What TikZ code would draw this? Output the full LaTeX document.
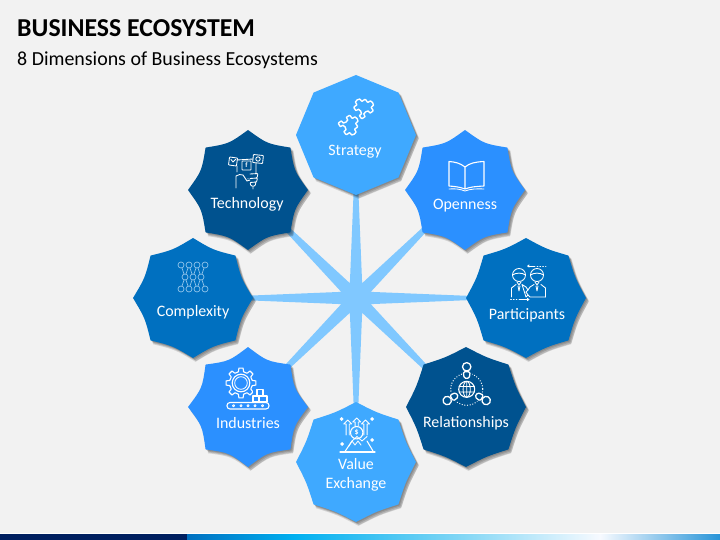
\documentclass[tikz,border=0pt]{standalone}
\usepackage{fontspec}
\setmainfont{Carlito}
\usetikzlibrary{arrows.meta}
\definecolor{bgc}{HTML}{F2F2F2}
\definecolor{cLight}{HTML}{3FA9FF}
\definecolor{cMid}{HTML}{2B90FF}
\definecolor{cDeep}{HTML}{0070C0}
\definecolor{cDark}{HTML}{00528F}
\definecolor{cStar}{HTML}{80C8FF}
\definecolor{cNavy}{HTML}{002060}
\definecolor{cFaint}{HTML}{8FC3EA}
\definecolor{barA}{HTML}{0070C0}
\definecolor{barB}{HTML}{00B0F0}
\definecolor{barC}{HTML}{80D6F5}
\definecolor{barD}{HTML}{F7FAFF}
\definecolor{barE}{HTML}{2794D8}
\tikzset{
 label/.style={text=white,font=\fontsize{16}{20}\selectfont,align=center,inner sep=0pt},
 icon/.style={draw=white,line width=1.1pt,line join=round,line cap=round},
 iconfine/.style={draw=white,line width=.85pt,line join=round,line cap=round},
 faint/.style={draw=cFaint,line width=.7pt}
}
\newcommand\octpath[1]{(0:60) \foreach \a in {0,45,...,315}{ .. controls ({\a+22.5}:#1) and ({\a+22.5}:#1) .. ({\a+45}:60)} -- cycle}
\newcommand\bizoct[4]{%
 \foreach \s/\t in {1/1,2/2,3/3,2.5/3.8}{\fill[black,opacity=.13,shift={(#1+\s,#2+\t)}] \octpath{#4};}
 \fill[#3,shift={(#1,#2)}] \octpath{#4};}
\newcommand\puzzlepiece{(-7,-7) -- (-2.5,-7) .. controls (-5,-12) and (5,-12) .. (2.5,-7) -- (7,-7) -- (7,-2.5) .. controls (12,-5) and (12,5) .. (7,2.5) -- (7,7) -- (2.5,7) .. controls (5,2.5) and (-5,2.5) .. (-2.5,7) -- (-7,7) -- (-7,2.5) .. controls (-2.5,5) and (-2.5,-5) .. (-7,-2.5) -- cycle}
\begin{document}
\begin{tikzpicture}[x=1bp,y=-1bp]
\useasboundingbox (0,0) rectangle (720,540);
\fill[bgc] (0,0) rectangle (720,540);
% star
\fill[cStar,shift={(356,298)}] (0:165) \foreach \a in {0,45,...,315}{ -- ({\a+22.5}:16) -- ({\a+45}:165)} -- cycle;
% octagons
\bizoct{356}{135}{cLight}{54.5}
\bizoct{465}{190}{cMid}{50}
\bizoct{526}{298}{cDeep}{53}
\bizoct{466}{407}{cDark}{53.5}
\bizoct{356}{462}{cLight}{53.5}
\bizoct{248}{407}{cMid}{49.5}
\bizoct{193}{298}{cDeep}{52}
\bizoct{248}{190}{cDark}{50}
% title
\node[anchor=west,inner sep=0pt,font=\fontsize{25.9}{28}\selectfont\bfseries] (title) at (17,28) {BUSINESS ECOSYSTEM};
\node[anchor=west,inner sep=0pt,font=\fontsize{20}{24}\selectfont] (subtitle) at (17,60) {8 Dimensions of Business Ecosystems};
% labels
\node[label] (strategy) at (355,151.5) {Strategy};
\node[label] (openness) at (465,205.5) {Openness};
\node[label] (technology) at (247,204.5) {Technology};
\node[label] (complexity) at (193,312.5) {Complexity};
\node[label] (participants) at (527,315.5) {Participants};
\node[label] (relationships) at (466,423.5) {Relationships};
\node[label] (industries) at (248,423.5) {Industries};
\node[label] (value) at (356,464) {Value};
\node[label] (exchange) at (356,484) {Exchange};
% strategy icon
\draw[icon,line width=1.4pt,rounded corners=.8pt,shift={(363.5,109)},rotate=35,scale=1.02] \puzzlepiece;
\draw[icon,line width=1.4pt,rounded corners=.8pt,shift={(348,125)},rotate=-55,scale=1.02] \puzzlepiece;
% openness icon
\draw[icon] (465,167) .. controls (460,163) and (455,162) .. (449,161.5) -- (449,186) .. controls (455,186.5) and (460,187) .. (465,189) .. controls (470,187) and (475,186.5) .. (484,186) -- (484,161.5) .. controls (475,162) and (470,163) .. (465,167) -- cycle (465,167) -- (465,188);
\draw[iconfine] (449,189) .. controls (455,188.5) and (460,189) .. (465,191) .. controls (470,189) and (477,188.5) .. (484,189);
% technology icon
\draw[iconfine,rounded corners=.6pt,rotate around={-8:(233,161.5)}] (229,157.5) rectangle (237,165.5);
\draw[iconfine,rounded corners=.6pt] (242,161) rectangle (251,170);
\draw[iconfine,rounded corners=.6pt,rotate around={-6:(258,159)}] (253,155) rectangle (263,163);
\draw[iconfine] (258,159) circle (2.2);
\node[text=white,inner sep=0pt,font=\fontsize{7}{7}\selectfont\bfseries] (fglyph) at (246.5,165.5) {f};
\draw[iconfine] (231,159.5) -- (233,162) -- (235.5,159.5);
\draw[iconfine] (237,160) -- (253,159) (256,163) -- (256,174) (237,166) -- (237,172);
\draw[iconfine] (236,188) -- (236,176) .. controls (238,174.5) and (241,174) .. (243,175) -- (247,181) -- (250,180) (248,178.5) -- (248,179);
\draw[iconfine,rounded corners=.8pt] (250,174) -- (258,173.5) -- (257,178) -- (250,178.5) (250,178.5) -- (257.5,178) -- (256.5,182) -- (250,182.5) -- (251,186) -- (255,186) -- (256,182) (253,186) -- (253,189);
% complexity icon
\draw[faint] (181,265) -- (185,277) (189,265) -- (185,277) (189,265) -- (193,277) (197,265) -- (193,277) (197,265) -- (201,277) (205,265) -- (201,277)
 (185,277) -- (181,289) (185,277) -- (189,289) (193,277) -- (189,289) (193,277) -- (197,289) (201,277) -- (197,289) (201,277) -- (205,289);
\foreach \x in {181,189,197,205}{\fill[cDeep] (\x,265) circle (3); \draw[faint] (\x,265) circle (3); \fill[cDeep] (\x,289) circle (3); \draw[faint] (\x,289) circle (3);}
\foreach \x in {185,193,201}{\fill[cDeep] (\x,277) circle (3); \draw[faint] (\x,277) circle (3);}
% participants icon
\foreach \x/\d in {519/1,537/-1}{
 \draw[iconfine] (\x,275) circle (6.5);
 \draw[iconfine] (\x-6.5,275) .. controls (\x-3,272.5) and (\x+3,272.5) .. (\x+6.5,275);
 \draw[iconfine] (\x-2,282) -- (\x,285) -- (\x+2,282) (\x-1,286) -- (\x,291) -- (\x+1,286);
}
\draw[iconfine] (511.5,297) -- (511.5,288) -- (516,284.5) (522,284.5) -- (526,287) -- (528,290) -- (526,292) -- (528,295) -- (526,297) -- cycle;
\draw[iconfine] (545.5,297) -- (545.5,288) -- (541,284.5) (534,284.5) -- (530,287) -- (528,290);
\draw[iconfine] (528,295) -- (530,297) -- (545.5,297);
\draw[iconfine,-{Straight Barb[length=1.6pt,width=2.4pt]}] (535,266) -- (527,266);
\draw[iconfine,dotted] (537,266) -- (546,266);
\draw[iconfine,-{Straight Barb[length=1.6pt,width=2.4pt]}] (519,299.5) -- (529.5,299.5);
\draw[iconfine,dotted] (510.5,299.5) -- (517,299.5);
% relationships icon
\draw[icon,line width=1.3pt,dash pattern=on .1pt off 2.6pt] (466.7,389.3) circle (16);
\fill[cDark] (466.7,389.3) circle (8.5);
\draw[icon] (466.7,389.3) circle (8);
\draw[iconfine] (466.7,389.3) ellipse (3.6 and 8) (459,386.5) -- (474.4,386.5) (459,392) -- (474.4,392) (466.7,381.3) -- (466.7,397.3);
\foreach \r in {0,120,240}{
 \begin{scope}[shift={(466.7,389.3)},rotate=\r]
 \fill[cDark] (-5,-18.5) rectangle (5,-9);
 \draw[icon,line width=1.3pt,fill=cDark] (0,-22.5) circle (4.2);
 \draw[icon,line width=1.3pt,rounded corners=1.5pt] (-3.5,-17.5) -- (3.5,-17.5) -- (2.5,-11) -- (-2.5,-11) -- cycle;
 \end{scope}}
% industries icon
\draw[icon,shift={(241,383)}] (-8:15) \foreach \a in {0,45,...,315}{ -- (\a+8:15) -- (\a+13:11.5) -- (\a+32:11.5) -- (\a+37:15)} -- cycle;
\draw[icon] (241,383) circle (8.8);
\draw[iconfine] (241,383) circle (6.3);
\fill[cMid] (252.5,388.5) rectangle (268,402);
\draw[icon] (257,389.5) rectangle (263,396) (253,396) rectangle (259,402) (259,396) rectangle (267,402);
\draw[icon,rounded corners=3pt] (227,402.5) rectangle (269,409);
\foreach \x in {233.5,241,248,255,262.5}{\draw[iconfine] (\x,405.7) circle (1.1);}
% value icon
\draw[icon] (340,452) -- (375,452);
\draw[icon] (345,451.5) -- (352,441) (367,441) -- (373,451);
\draw[iconfine] (352,441) -- (357,436.5) -- (362,441) -- (367,436.5) (352,441) -- (355,445) -- (358,441) -- (361,445) (349,446) -- (352,441);
\draw[icon] (356.7,432.7) circle (6.2);
\node[text=white,inner sep=0pt,font=\fontsize{8}{8}\selectfont\bfseries] (dollar) at (356.7,432.7) {\$};
\foreach \x/\tip/\bot in {347.7/420/435,365.5/420/435,356.7/418/426}{
 \draw[iconfine] (\x-4,\tip+4) -- (\x,\tip) -- (\x+4,\tip+4) -- (\x+1.6,\tip+4) -- (\x+1.6,\bot) (\x-4,\tip+4) -- (\x-1.6,\tip+4) -- (\x-1.6,\bot);}
\foreach \x/\y in {341.7/419,372/419,342/444,372/440}{\fill[white] (\x-2,\y) -- (\x,\y-2) -- (\x+2,\y) -- (\x,\y+2) -- cycle;}
% bottom bar
\fill[white] (0,533) rectangle (720,534);
\fill[cNavy] (0,534) rectangle (187,540);
\shade[left color=barA,right color=barB] (187,534) rectangle (294.2,540);
\shade[left color=barB,right color=barC] (294,534) rectangle (459.2,540);
\shade[left color=barC,right color=barD] (459,534) rectangle (600.2,540);
\shade[left color=barD,right color=barE] (600,534) rectangle (720,540);
\end{tikzpicture}
\end{document}
